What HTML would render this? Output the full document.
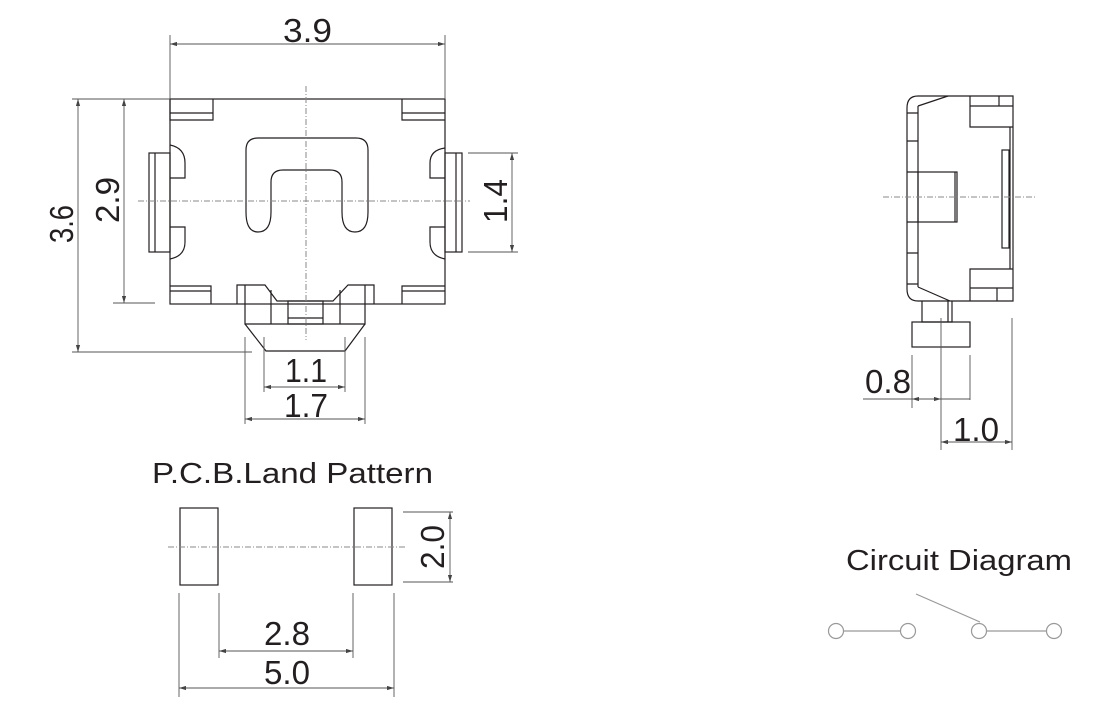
<!DOCTYPE html>
<html><head><meta charset="utf-8"><style>
html,body{margin:0;padding:0;background:#fff;}
svg{display:block;}
text{font-family:"Liberation Sans",sans-serif;fill:#231f20;}
</style></head><body>
<svg width="1120" height="716" viewBox="0 0 1120 716" xmlns="http://www.w3.org/2000/svg">
<defs>
<marker id="a" viewBox="0 0 10 6" refX="10" refY="3" markerWidth="8" markerHeight="5" orient="auto-start-reverse"><path d="M0,0 L10,3 L0,6 Z" fill="#444"/></marker>
</defs>
<g fill="none" stroke="#231f20" stroke-width="1.2">
<rect x="170" y="99" width="275" height="205"/>
<path d="M170 99 V120 H213 V99 M170 113 H213"/>
<path d="M402 99 V120 H445 M402 113 H445"/>
<path d="M170 286 H211 V304 M170 291 H211"/>
<path d="M402 304 V286 H445 M402 291 H445"/>
<rect x="149" y="153" width="21" height="99"/>
<path d="M155 153 V252"/>
<path d="M170 145 Q185 148 185 163 V178 H170 M170 227 H185 V242 Q185 256 170 259"/>
<rect x="445" y="153" width="17" height="99"/>
<path d="M456 153 V252"/>
<path d="M445 148 Q430 150 430 163 V178 H445 M445 227 H430 V242 Q430 256 445 259"/>
<path d="M271 212 L271 182 Q271 170 283 170 L330 170 Q342 170 342 182 L342 212 Q342 232 355 232 Q368 232 368 212 L368 150 Q368 138 356 138 L258 138 Q246 138 246 150 L246 212 Q246 232 258 232 Q271 232 271 212 Z"/>
<path d="M237 304 V285 H265 L277 301 H333 L348 285 H374 V304"/>
<path d="M245 285 V324 H365 V285"/>
<path d="M245 324 L266 351 H345 L365 324"/>
<path d="M271 290 V324 M340 290 V324"/>
<rect x="288" y="301" width="35" height="23"/>
<path d="M288 318 H323"/>
<path d="M1013 96 H918 Q907 96 907 108 V289 Q907 301 918 301 H1013 Z"/>
<path d="M918 106 V287 M918 106 L948 96 M918 287 L950 301"/>
<path d="M907 113 H918 M907 141 H918 M907 172 H918 M907 222 H918 M907 253 H918 M907 284 H918"/>
<rect x="918" y="172" width="39" height="50"/>
<path d="M955 172 V222"/>
<path d="M970 96 V127 H1013 M970 106 H1013 M999 96 V106"/>
<path d="M970 301 V269 H1013 M970 288 H1013 M997 288 V301"/>
<rect x="1002" y="150" width="7" height="98"/>
<path d="M1010 127 V269"/>
<path d="M922 301 V322 H952 V301 M948 301 V322"/>
<rect x="912" y="322" width="58" height="25"/>
<rect x="180" y="508" width="38" height="77"/>
<rect x="354" y="508" width="38" height="77"/>
</g>
<g stroke="#888" stroke-width="1" stroke-dasharray="6,2,1,2" fill="none">
<path d="M306 86 V340 M138 201 H470 M883 197 H1035 M168 547 H405"/>
</g>
<g stroke="#555" stroke-width="0.9" fill="none">
<path d="M170 35 V99 M445 35 V99"/>
<path d="M170 44 H445" marker-start="url(#a)" marker-end="url(#a)"/>
<path d="M72 99 H170 M72 352 H252"/>
<path d="M78 99 V352" marker-start="url(#a)" marker-end="url(#a)"/>
<path d="M113 303 H155"/>
<path d="M124 99 V303" marker-start="url(#a)" marker-end="url(#a)"/>
<path d="M468 153 H518 M468 252 H518"/>
<path d="M512 153 V252" marker-start="url(#a)" marker-end="url(#a)"/>
<path d="M264 337 V392 M345 337 V392"/>
<path d="M264 387 H345" marker-start="url(#a)" marker-end="url(#a)"/>
<path d="M245 337 V424 M365 337 V424"/>
<path d="M245 419 H365" marker-start="url(#a)" marker-end="url(#a)"/>
<path d="M912 355 V408 M970 355 V400 M941 318 V450 M1012 318 V450"/>
<path d="M863 399 H912"/>
<path d="M912 399 H941" marker-start="url(#a)" marker-end="url(#a)"/>
<path d="M941 399 H970"/>
<path d="M941 442 H1012" marker-start="url(#a)" marker-end="url(#a)"/>
<path d="M403 512 H453 M403 582 H453"/>
<path d="M450 512 V582" marker-start="url(#a)" marker-end="url(#a)"/>
<path d="M219 593 V658 M353 593 V658 M179 593 V697 M394 593 V697"/>
<path d="M219 651 H353" marker-start="url(#a)" marker-end="url(#a)"/>
<path d="M179 688 H394" marker-start="url(#a)" marker-end="url(#a)"/>
</g>
<g stroke="#999" stroke-width="1.2" fill="#fff">
<path d="M843 631 H901 M986 631 H1047 M916 594 L980 622" fill="none"/>
<circle cx="836" cy="631" r="7.5"/>
<circle cx="908" cy="631" r="7.5"/>
<circle cx="979" cy="631" r="7.5"/>
<circle cx="1054" cy="631" r="7.5"/>
</g>
<g font-size="33">
<text x="283" y="42" textLength="49" lengthAdjust="spacingAndGlyphs">3.9</text>
<text transform="translate(73,224) rotate(-90)" text-anchor="middle" textLength="38" lengthAdjust="spacingAndGlyphs">3.6</text>
<text transform="translate(119,200) rotate(-90)" text-anchor="middle" textLength="46" lengthAdjust="spacingAndGlyphs">2.9</text>
<text transform="translate(507,201) rotate(-90)" text-anchor="middle" textLength="44" lengthAdjust="spacingAndGlyphs">1.4</text>
<text x="285" y="382" textLength="42" lengthAdjust="spacingAndGlyphs">1.1</text>
<text x="284" y="417" textLength="44" lengthAdjust="spacingAndGlyphs">1.7</text>
<text x="865" y="393" textLength="46" lengthAdjust="spacingAndGlyphs">0.8</text>
<text x="953" y="441" textLength="46" lengthAdjust="spacingAndGlyphs">1.0</text>
<text transform="translate(444,547) rotate(-90)" text-anchor="middle" textLength="44" lengthAdjust="spacingAndGlyphs">2.0</text>
<text x="264" y="645" textLength="46" lengthAdjust="spacingAndGlyphs">2.8</text>
<text x="264" y="684" textLength="46" lengthAdjust="spacingAndGlyphs">5.0</text>
</g>
<g font-size="29">
<text x="152" y="483" textLength="281" lengthAdjust="spacingAndGlyphs">P.C.B.Land Pattern</text>
<text x="846" y="570" textLength="226" lengthAdjust="spacingAndGlyphs">Circuit Diagram</text>
</g>
</svg>
</body></html>
